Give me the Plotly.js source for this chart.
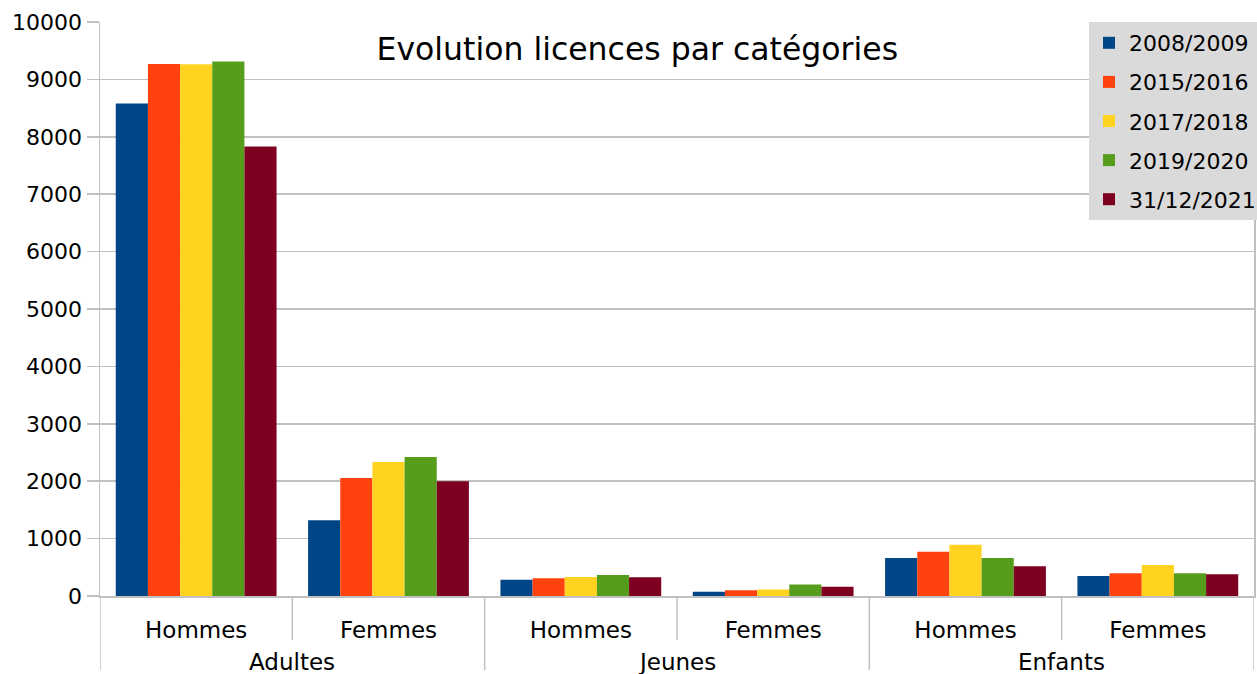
<!DOCTYPE html>
<html>
<head>
<meta charset="utf-8">
<script src="https://cdn.plot.ly/plotly-3.0.1.min.js"></script>
<style>
html,body{margin:0;padding:0;background:#fff;}
#chart{width:1257px;height:674px;}
</style>
</head>
<body>
<div id="chart"></div>
<script>
// Data
const groups = ["Adultes", "Adultes", "Jeunes", "Jeunes", "Enfants", "Enfants"];
const sexes = ["Hommes", "Femmes", "Hommes", "Femmes", "Hommes", "Femmes"];
const seriesNames = ["2008/2009", "2015/2016", "2017/2018", "2019/2020", "31/12/2021"];
const s2008 = [8580, 1320, 285, 75, 660, 348];
const s2015 = [9270, 2055, 310, 100, 773, 395];
const s2017 = [9265, 2335, 330, 115, 895, 540];
const s2019 = [9310, 2420, 365, 200, 662, 395];
const s2021 = [7830, 2000, 325, 160, 517, 378];
const seriesValues = [s2008, s2015, s2017, s2019, s2021];
const colors = ["#004586", "#ff420e", "#ffd320", "#579d1c", "#7e0021"];
const yTicks = [0, 1000, 2000, 3000, 4000, 5000, 6000, 7000, 8000, 9000, 10000];

const FONT = "DejaVu Sans, Arial, sans-serif";
const LINE = "#c0c0c0";

// category positions on the x axis (one slot per sub-category)
const xPos = sexes.map((_, i) => i);
const groupNames = groups.filter((g, i) => groups.indexOf(g) === i);
const groupCenters = groupNames.map(g => {
  const idx = xPos.filter(i => groups[i] === g);
  return idx.reduce((a, b) => a + b, 0) / idx.length;
});

const traces = seriesNames.map((name, i) => ({
  type: "bar",
  name: name,
  legendgroup: "g" + i,
  x: xPos,
  y: seriesValues[i],
  marker: {color: colors[i], line: {width: 0}},
  hoverinfo: "y+name"
}));

// divider lines below the axis: inner (sub-category) and outer (group) boundaries
const shapes = [];
const H = 574;
for (let b = 0; b <= xPos.length; b++) {
  const xb = b - 0.5;
  const isOuter = b === 0 || b === xPos.length || groups[b] !== groups[b - 1];
  shapes.push({
    type: "line", xref: "x", yref: "paper",
    x0: xb, x1: xb, y0: 0, y1: isOuter ? -74 / H : -44 / H,
    line: {color: LINE, width: 1.5}
  });
}

const annotations = groupNames.map((g, k) => ({
  text: g, xref: "x", yref: "paper",
  x: groupCenters[k], y: -66 / H,
  xanchor: "center", yanchor: "middle",
  showarrow: false,
  font: {family: FONT, size: 23, color: "#000000"}
}));

const layout = {
  width: 1257,
  height: 674,
  paper_bgcolor: "#ffffff",
  plot_bgcolor: "#ffffff",
  margin: {l: 100, r: 3, t: 22, b: 78, pad: 0, autoexpand: false},
  font: {family: FONT, size: 22, color: "#000000"},
  title: {
    text: "Evolution licences par catégories",
    font: {family: FONT, size: 31.5, color: "#000000"},
    x: 0.507, xanchor: "center", xref: "container",
    y: 0.928, yanchor: "middle", yref: "container"
  },
  barmode: "group",
  bargap: 0.164,
  bargroupgap: 0,
  showlegend: true,
  legend: {
    x: (1089 - 100) / 1154, xanchor: "left", xref: "paper",
    y: 1, yanchor: "top", yref: "paper",
    bgcolor: "#dadada",
    borderwidth: 0,
    font: {family: FONT, size: 22, color: "#000000"},
    traceorder: "grouped",
    tracegroupgap: 7.5
  },
  xaxis: {
    type: "linear",
    range: [-0.5, xPos.length - 0.5],
    tickvals: xPos,
    ticktext: sexes,
    automargin: false,
    showline: true,
    linecolor: LINE,
    linewidth: 1.5,
    ticks: "",
    tickfont: {family: FONT, size: 23, color: "#000000"},
    ticklabelstandoff: 13,
    showgrid: false,
    zeroline: false,
    fixedrange: true
  },
  yaxis: {
    range: [0, 10000],
    tickvals: yTicks,
    ticktext: yTicks.map(String),
    automargin: false,
    showline: true,
    mirror: true,
    linecolor: LINE,
    linewidth: 1.5,
    ticks: "outside",
    ticklen: 12,
    tickcolor: LINE,
    tickwidth: 1.5,
    showgrid: true,
    gridcolor: LINE,
    gridwidth: 1.5,
    zeroline: false,
    tickfont: {family: FONT, size: 22, color: "#000000"},
    ticklabelstandoff: 0
  },
  shapes: shapes,
  annotations: annotations
};

Plotly.newPlot("chart", traces, layout, {displayModeBar: false, staticPlot: true});
</script>
</body>
</html>
